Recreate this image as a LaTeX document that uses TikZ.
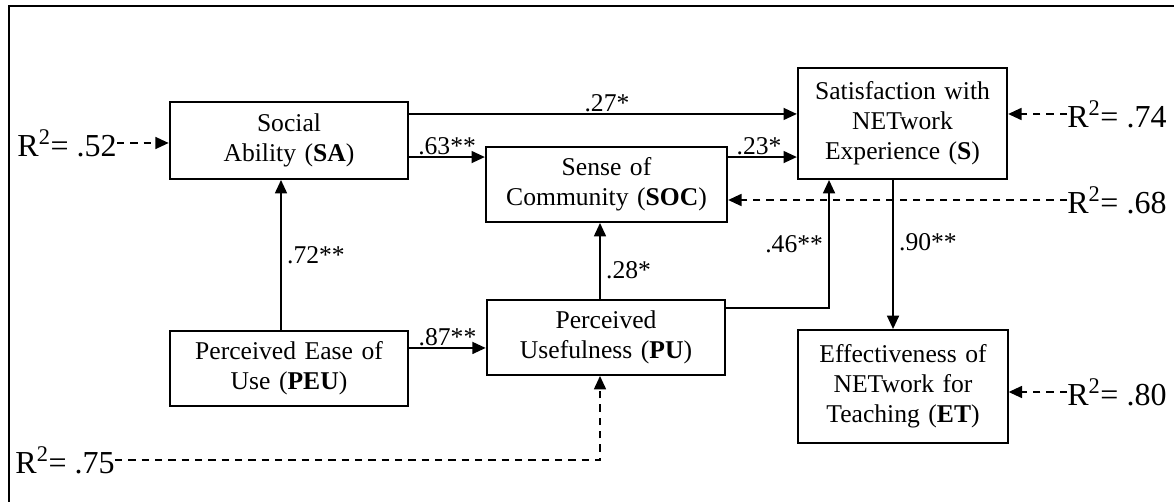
\documentclass[tikz,border=0pt]{standalone}
\usepackage{fontspec}
\setmainfont{Liberation Serif}
\usetikzlibrary{arrows.meta}
\newcommand{\Rsq}[1]{R\textsuperscript{2}= #1}

\begin{document}
\begin{tikzpicture}[x=0.75pt, y=-0.75pt, >={Triangle[length=10pt, width=9pt]},
    construct/.style={draw, line width=1.5pt, inner sep=0pt, align=center,
      text width=179pt, minimum height=56.25pt,
      font=\fontsize{19.2}{22.5}\selectfont},
    coef/.style={inner sep=1pt, font=\fontsize{19.2}{22.5}\selectfont},
    rsq/.style={inner sep=0pt, font=\fontsize{24}{28}\selectfont},
    link/.style={->, line width=1.2pt},
    rlink/.style={->, line width=1.2pt, dash pattern=on 5.5pt off 4.5pt}]
    \useasboundingbox (0,0) rectangle (1174,502);

    % 1. Frame (cut off at right and bottom)
    \draw[line width=1.3pt] (9,502) -- (9,6) -- (1174,6);

    % 2. Constructs
    \node[construct, minimum height=57.75pt] (SA) at (289,140.5) {Social\\ Ability (\textbf{SA})};
    \node[construct, text width=181pt] (SOC) at (606.5,184.5) {Sense of\\ Community (\textbf{SOC})};
    \node[construct, text width=157pt, minimum height=83.25pt] (S) at (902.5,123.5) {Satisfaction with\\ NETwork\\ Experience (\textbf{S})};
    \node[construct] (PEU) at (289,368.5) {Perceived Ease of\\ Use (\textbf{PEU})};
    \node[construct] (PU) at (606,337.5) {Perceived\\ Usefulness (\textbf{PU})};
    \node[construct, text width=157pt, minimum height=84.75pt] (ET) at (903,386.5) {Effectiveness of\\ NETwork for\\ Teaching (\textbf{ET})};

    % 3. Paths with coefficients
    \draw[link] ([yshift=19.9pt]SA.east) -- ([yshift=19.9pt]SA.east -| S.west) node[coef, above, pos=0.51] {.27*};
    \draw[link] ([yshift=-12.4pt]SA.east) -- ([yshift=-12.4pt]SA.east -| SOC.west) node[coef, above, midway] {.63**};
    \draw[link] ([yshift=-12.4pt]SA.east -| SOC.east) -- ([yshift=-12.4pt]SA.east -| S.west) node[coef, above, pos=0.45] {.23*};
    \draw[link] ([xshift=-6pt]PEU.north) -- ([xshift=-6pt]SA.south) node[coef, right=3pt, midway] {.72**};
    \draw[link] ([yshift=15.4pt]PEU.east) -- ([yshift=15.4pt]PEU.east -| PU.west) node[coef, above, midway] {.87**};
    \draw[link] ([xshift=-4.5pt]PU.north) -- ([xshift=-4.5pt]PU.north |- SOC.south) node[coef, right=3pt, pos=0.38] {.28*};
    \draw[link] ([yshift=22.1pt]PU.east) -| ([xshift=-55.1pt]S.south) node[coef, left=3pt, pos=0.75] {.46**};
    \draw[link] ([xshift=-7.1pt]S.south) -- ([xshift=-7.1pt]S.south |- ET.north) node[coef, right=3pt, pos=0.42] {.90**};

    % 4. Explained variance
    \node[rsq, anchor=east] (r52) at (117,143) {\Rsq{.52}};
    \node[rsq, anchor=west] (r74) at (1067,114) {\Rsq{.74}};
    \node[rsq, anchor=west] (r68) at (1067,200) {\Rsq{.68}};
    \node[rsq, anchor=west] (r80) at (1067,392) {\Rsq{.80}};
    \node[rsq, anchor=east] (r75) at (115,460) {\Rsq{.75}};
    \draw[rlink] (r52) -- (r52 -| SA.west);
    \draw[rlink] (r74) -- (r74 -| S.east);
    \draw[rlink] (r68) -- (r68 -| SOC.east);
    \draw[rlink] (r80) -- (r80 -| ET.east);
    \draw[rlink] (r75) -| ([xshift=-4.5pt]PU.south);
\end{tikzpicture}
\end{document}
